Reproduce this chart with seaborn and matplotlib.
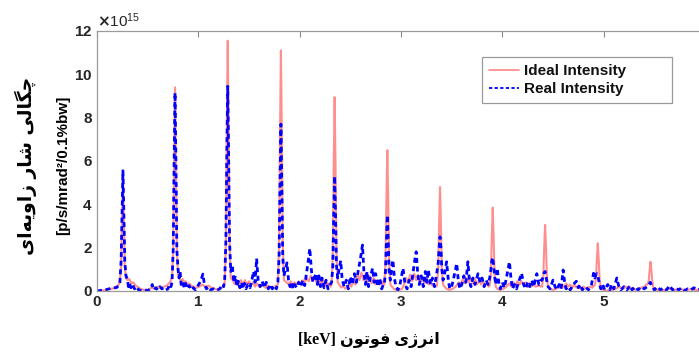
import numpy as np
import matplotlib
matplotlib.use('Agg')
import matplotlib.pyplot as plt
import seaborn as sns

# spectrum, flux in units of 1e15 p/s/mrad^2/0.1%bw
ideal_kev = [0.00, 0.04, 0.08, 0.12, 0.16, 0.19, 0.215,
             0.226, 0.238, 0.247, 0.256, 0.265, 0.274, 0.286,
             0.30, 0.32, 0.34, 0.36, 0.38, 0.40, 0.43, 0.46, 0.50, 0.54, 0.57, 0.60, 0.63, 0.66, 0.69, 0.72,
             0.740, 0.752, 0.761, 0.770, 0.779, 0.788, 0.800,
             0.815, 0.83, 0.845, 0.86, 0.875, 0.89, 0.91, 0.93, 0.95, 0.98, 1.01, 1.04, 1.07, 1.10, 1.13, 1.16, 1.19, 1.22, 1.245,
             1.260, 1.272, 1.281, 1.290, 1.299, 1.308, 1.320,
             1.34, 1.36, 1.38, 1.40, 1.42, 1.44, 1.46, 1.48, 1.50, 1.52, 1.54, 1.56, 1.58, 1.60, 1.63, 1.66, 1.69, 1.72, 1.75, 1.775,
             1.785, 1.797, 1.806, 1.815, 1.824, 1.833, 1.845,
             1.87, 1.89, 1.91, 1.93, 1.95, 1.97, 1.99, 2.01, 2.03, 2.05, 2.07, 2.09, 2.11, 2.13, 2.15, 2.17, 2.19, 2.21, 2.23, 2.25, 2.27, 2.29, 2.305,
             2.315, 2.327, 2.336, 2.345, 2.354, 2.363, 2.375,
             2.39, 2.41, 2.43, 2.45, 2.47, 2.49, 2.51, 2.53, 2.55, 2.57, 2.59, 2.61, 2.63, 2.65, 2.67, 2.69, 2.71, 2.73, 2.75, 2.77, 2.79, 2.81, 2.825,
             2.835, 2.847, 2.856, 2.865, 2.874, 2.883, 2.895,
             2.91, 2.93, 2.95, 2.98, 3.01, 3.03, 3.05, 3.07, 3.09, 3.11, 3.13, 3.15, 3.17, 3.19, 3.21, 3.23, 3.25, 3.27, 3.29, 3.31, 3.33, 3.345,
             3.355, 3.367, 3.376, 3.385, 3.394, 3.403, 3.415,
             3.43, 3.45, 3.48, 3.51, 3.54, 3.57, 3.59, 3.61, 3.63, 3.65, 3.67, 3.69, 3.71, 3.73, 3.75, 3.77, 3.79, 3.81, 3.83, 3.85, 3.865,
             3.875, 3.887, 3.896, 3.905, 3.914, 3.923, 3.935,
             3.95, 3.98, 4.01, 4.04, 4.07, 4.09, 4.11, 4.13, 4.15, 4.17, 4.19, 4.21, 4.23, 4.25, 4.27, 4.29, 4.31, 4.33, 4.36, 4.38,
             4.392, 4.404, 4.413, 4.422, 4.431, 4.440, 4.452,
             4.47, 4.50, 4.53, 4.56, 4.59, 4.61, 4.63, 4.65, 4.67, 4.69, 4.71, 4.73, 4.75, 4.77, 4.80, 4.83, 4.86, 4.89, 4.90,
             4.912, 4.924, 4.933, 4.942, 4.951, 4.960, 4.972,
             4.99, 5.03, 5.08, 5.12, 5.16, 5.19, 5.22, 5.25, 5.28, 5.31, 5.34, 5.37, 5.40, 5.42,
             5.432, 5.444, 5.453, 5.462, 5.471, 5.480, 5.492,
             5.51, 5.55, 5.60, 5.65, 5.70, 5.75, 5.80, 5.85, 5.90, 5.95, 6.00]
ideal_flux = [0.00, 0.02, 0.04, 0.08, 0.12, 0.20, 0.30,
              0.50, 1.10, 3.40, 5.30, 3.40, 1.10, 0.60,
              0.50, 0.55, 0.35, 0.40, 0.25, 0.20, 0.10, 0.05, 0.05, 0.15, 0.10, 0.20, 0.15, 0.20, 0.25, 0.40,
              0.60, 1.90, 6.10, 9.40, 6.10, 1.90, 0.70,
              0.60, 0.45, 0.55, 0.40, 0.45, 0.30, 0.35, 0.25, 0.20, 0.15, 0.20, 0.30, 0.20, 0.25, 0.15, 0.10, 0.05, 0.10, 0.20,
              0.40, 2.30, 7.50, 11.55, 7.50, 2.30, 0.60,
              0.50, 0.30, 0.50, 0.30, 0.50, 0.30, 0.50, 0.30, 0.45, 0.25, 0.40, 0.20, 0.35, 0.20, 0.30, 0.15, 0.25, 0.15, 0.20, 0.25,
              0.30, 2.20, 7.20, 11.10, 7.20, 2.20, 0.50,
              0.40, 0.30, 0.45, 0.25, 0.40, 0.30, 0.45, 0.30, 0.50, 0.40, 0.60, 0.45, 0.70, 0.50, 0.60, 0.35, 0.55, 0.30, 0.50, 0.25, 0.40, 0.30, 0.20,
              0.30, 1.80, 5.80, 8.95, 5.80, 1.80, 0.40,
              0.30, 0.15, 0.25, 0.10, 0.20, 0.30, 0.20, 0.50, 0.30, 0.75, 0.50, 0.85, 0.50, 0.80, 0.40, 0.70, 0.35, 0.60, 0.30, 0.50, 0.30, 0.45, 0.30,
              0.30, 1.30, 4.20, 6.50, 4.20, 1.30, 0.30,
              0.20, 0.10, 0.05, 0.05, 0.10, 0.30, 0.60, 0.40, 0.75, 0.45, 0.80, 0.50, 0.75, 0.40, 0.65, 0.35, 0.60, 0.30, 0.45, 0.25, 0.30, 0.20,
              0.25, 1.00, 3.10, 4.80, 3.10, 1.00, 0.30,
              0.20, 0.10, 0.05, 0.10, 0.20, 0.40, 0.30, 0.55, 0.35, 0.60, 0.40, 0.60, 0.35, 0.55, 0.30, 0.50, 0.30, 0.45, 0.25, 0.35, 0.20,
              0.25, 0.80, 2.50, 3.85, 2.50, 0.80, 0.20,
              0.10, 0.05, 0.10, 0.20, 0.35, 0.20, 0.40, 0.25, 0.45, 0.30, 0.45, 0.25, 0.40, 0.20, 0.35, 0.20, 0.30, 0.20, 0.25, 0.20,
              0.20, 0.65, 2.00, 3.05, 2.00, 0.65, 0.20,
              0.10, 0.05, 0.10, 0.20, 0.30, 0.15, 0.35, 0.20, 0.30, 0.15, 0.30, 0.15, 0.25, 0.10, 0.20, 0.10, 0.20, 0.15, 0.25,
              0.25, 0.55, 1.45, 2.20, 1.45, 0.55, 0.15,
              0.05, 0.02, 0.05, 0.10, 0.20, 0.10, 0.20, 0.10, 0.15, 0.05, 0.10, 0.15, 0.20, 0.30,
              0.30, 0.45, 0.95, 1.35, 0.95, 0.45, 0.10,
              0.05, 0.02, 0.05, 0.10, 0.05, 0.10, 0.05, 0.08, 0.05, 0.05, 0.03]

real_kev = [0.00, 0.04, 0.08, 0.12, 0.16, 0.19, 0.215,
            0.226, 0.238, 0.247, 0.256, 0.265, 0.274, 0.286,
            0.30, 0.31, 0.32, 0.335, 0.35, 0.37, 0.39, 0.41, 0.44, 0.47, 0.50, 0.53, 0.545, 0.56, 0.58, 0.60, 0.62, 0.64, 0.66, 0.68, 0.70, 0.715, 0.73,
            0.740, 0.752, 0.761, 0.770, 0.779, 0.788, 0.800,
            0.81, 0.82, 0.83, 0.845, 0.86, 0.875, 0.89, 0.91, 0.93, 0.95, 0.97, 0.99, 1.01, 1.03, 1.045, 1.06, 1.08, 1.10, 1.12, 1.15, 1.18, 1.21, 1.24, 1.25,
            1.260, 1.272, 1.281, 1.290, 1.299, 1.308, 1.320,
            1.335, 1.35, 1.365, 1.38, 1.395, 1.41, 1.425, 1.44, 1.455, 1.47, 1.49, 1.51, 1.53, 1.545, 1.56, 1.575, 1.59, 1.61, 1.63, 1.65, 1.67, 1.69, 1.71, 1.73, 1.75, 1.77,
            1.785, 1.797, 1.806, 1.815, 1.824, 1.833, 1.845,
            1.86, 1.875, 1.89, 1.905, 1.92, 1.935, 1.95, 1.97, 1.99, 2.01, 2.03, 2.05, 2.07, 2.085, 2.10, 2.115, 2.13, 2.145, 2.16, 2.175, 2.19, 2.205, 2.22, 2.24, 2.26, 2.28, 2.30,
            2.315, 2.327, 2.336, 2.345, 2.354, 2.363, 2.375,
            2.39, 2.405, 2.42, 2.44, 2.46, 2.48, 2.50, 2.52, 2.54, 2.56, 2.58, 2.60, 2.62, 2.635, 2.65, 2.665, 2.68, 2.70, 2.72, 2.735, 2.75, 2.77, 2.79, 2.81, 2.825,
            2.835, 2.847, 2.856, 2.865, 2.874, 2.883, 2.895,
            2.905, 2.92, 2.935, 2.95, 2.97, 2.99, 3.02, 3.04, 3.06, 3.08, 3.10, 3.12, 3.135, 3.15, 3.165, 3.18, 3.20, 3.22, 3.24, 3.255, 3.27, 3.29, 3.31, 3.33, 3.345,
            3.355, 3.367, 3.376, 3.385, 3.394, 3.403, 3.415,
            3.43, 3.45, 3.465, 3.48, 3.50, 3.52, 3.55, 3.565, 3.58, 3.60, 3.62, 3.64, 3.66, 3.675, 3.69, 3.71, 3.73, 3.76, 3.78, 3.80, 3.82, 3.84, 3.86,
            3.875, 3.887, 3.896, 3.905, 3.914, 3.923, 3.935,
            3.95, 3.965, 3.98, 4.00, 4.02, 4.04, 4.07, 4.085, 4.10, 4.12, 4.14, 4.16, 4.19, 4.21, 4.23, 4.25, 4.27, 4.29, 4.31, 4.34, 4.36, 4.38,
            4.392, 4.404, 4.413, 4.422, 4.431, 4.440, 4.452,
            4.47, 4.50, 4.52, 4.54, 4.56, 4.58, 4.60, 4.615, 4.63, 4.65, 4.67, 4.70, 4.73, 4.75, 4.77, 4.79, 4.82, 4.85, 4.88, 4.90,
            4.912, 4.924, 4.933, 4.942, 4.951, 4.960, 4.972,
            4.99, 5.01, 5.04, 5.06, 5.08, 5.10, 5.13, 5.15, 5.17, 5.20, 5.23, 5.26, 5.28, 5.31, 5.34, 5.37, 5.40, 5.43,
            5.445, 5.46, 5.48,
            5.50, 5.53, 5.56, 5.59, 5.62, 5.65, 5.68, 5.71, 5.74, 5.77, 5.80, 5.83, 5.86, 5.89, 5.92, 5.96, 6.00]
real_flux = [0.00, 0.03, 0.05, 0.10, 0.15, 0.15, 0.25,
             0.40, 1.40, 3.60, 5.55, 3.60, 1.40, 0.70,
             0.55, 0.20, 0.35, 0.15, 0.30, 0.10, 0.20, 0.05, 0.02, 0.05, 0.02, 0.10, 0.30, 0.05, 0.15, 0.05, 0.20, 0.10, 0.15, 0.05, 0.10, 0.30, 0.20,
             0.40, 1.90, 5.90, 9.15, 5.90, 1.90, 1.00,
             0.60, 0.90, 0.30, 0.45, 0.15, 0.35, 0.10, 0.25, 0.05, 0.15, 0.05, 0.20, 0.35, 0.55, 0.78, 0.30, 0.10, 0.20, 0.05, 0.10, 0.02, 0.10, 0.30, 0.20,
             0.50, 2.30, 6.20, 9.45, 6.20, 2.30, 0.90,
             1.20, 0.40, 0.70, 0.20, 0.45, 0.15, 0.40, 0.10, 0.35, 0.10, 0.30, 0.15, 0.55, 0.90, 0.40, 1.50, 0.50, 0.20, 0.45, 0.15, 0.40, 0.10, 0.30, 0.10, 0.25, 0.10,
             0.40, 1.60, 5.00, 7.70, 5.00, 1.60, 0.70,
             1.00, 1.30, 0.50, 0.20, 0.40, 0.10, 0.30, 0.15, 0.40, 0.20, 0.50, 0.25, 0.90, 1.40, 1.97, 1.00, 0.40, 0.60, 0.82, 0.30, 0.70, 0.20, 0.60, 0.15, 0.50, 0.10, 0.30,
             0.40, 1.10, 3.50, 5.30, 3.50, 1.20, 0.60,
             1.05, 1.40, 0.50, 0.20, 0.50, 0.10, 0.66, 0.30, 0.80, 0.40, 1.00, 1.50, 2.12, 0.80, 0.30, 0.90, 0.20, 0.70, 1.05, 0.40, 0.80, 0.20, 0.60, 0.10, 0.30,
             0.30, 0.90, 2.30, 3.50, 2.30, 0.90, 0.50,
             1.00, 1.43, 0.60, 0.20, 0.05, 0.30, 1.05, 0.30, 0.10, 0.50, 0.20, 0.90, 1.40, 1.81, 0.80, 0.30, 0.70, 0.20, 0.90, 0.40, 0.97, 0.30, 0.60, 0.20, 0.60,
             0.90, 1.30, 2.00, 2.50, 2.00, 1.00, 0.50,
             0.80, 1.35, 0.60, 0.10, 0.20, 0.60, 1.27, 0.50, 0.10, 0.30, 0.70, 0.40, 1.35, 0.50, 0.20, 0.60, 0.30, 0.80, 0.40, 0.60, 0.20, 0.50, 0.30,
             0.60, 1.00, 1.40, 1.55, 1.20, 0.70, 0.30,
             1.05, 0.40, 0.10, 0.40, 0.15, 0.60, 1.35, 0.60, 0.10, 0.30, 0.10, 0.40, 0.82, 0.30, 0.10, 0.40, 0.20, 0.50, 0.20, 0.80, 0.30, 0.50,
             0.50, 0.70, 0.85, 0.90, 0.70, 0.40, 0.20,
             0.10, 0.50, 0.20, 0.05, 0.30, 0.10, 0.97, 0.40, 0.10, 0.20, 0.05, 0.30, 0.45, 0.15, 0.30, 0.05, 0.20, 0.05, 0.30, 0.82,
             0.60, 0.75, 0.80, 0.70, 0.50, 0.30, 0.10,
             0.30, 0.05, 0.30, 0.05, 0.30, 0.10, 0.60, 0.20, 0.05, 0.20, 0.05, 0.25, 0.05, 0.20, 0.05, 0.20, 0.10, 0.20,
             0.30, 0.40, 0.20,
             0.05, 0.20, 0.05, 0.15, 0.05, 0.25, 0.05, 0.15, 0.05, 0.15, 0.02, 0.10, 0.05, 0.15, 0.05, 0.10, 0.05]

series_labels = ['Ideal Intensity', 'Real Intensity']
x_ticks = [0, 1, 2, 3, 4, 5]
y_ticks = [0, 2, 4, 6, 8, 10, 12]

# Persian labels, already shaped (presentation forms) and in visual order
ylabel_fa = ('\uFBFC\uFE8D\uFEEA\uFBFE\uFEED\uFE8D\uFEAF' + ' '
             + '\uFEAD\uFE8E\uFEB7' + ' '
             + '\uFBFD\uFEDF\uFE8E\uFB95\uFB7C')
ylabel_unit = '[p/s/mrad\u00b2/0.1%bw]'
xlabel_fa = ('[keV] ' + '\uFEE5\uFEEE\uFE97\uFEEE\uFED3' + ' '
             + '\uFBFC\uFB8A\uFEAE\uFEE7\uFE8D')

sns.set_style('white')
plt.rcParams['font.family'] = ['Liberation Sans', 'DejaVu Sans']
plt.rcParams['font.weight'] = 'bold'

fig = plt.figure(figsize=(6.99, 3.52), dpi=100)
ax = fig.add_axes([97 / 699, 61 / 352, 608 / 699, 260 / 352])

sns.lineplot(x=ideal_kev, y=np.array(ideal_flux) * 1e15, ax=ax, color='#ff6a6a', alpha=0.75,
             linewidth=1.5, label=series_labels[0], sort=False, estimator=None)
sns.lineplot(x=real_kev, y=np.array(real_flux) * 1e15, ax=ax, color='#0000ff',
             linewidth=2.0, linestyle=(0, (1.8, 1.3)), label=series_labels[1], sort=False, estimator=None)

ax.set_xlim(0, 6)
ax.set_ylim(0, 12e15)
ax.set_xticks(x_ticks)
ax.set_yticks([v * 1e15 for v in y_ticks])
ax.ticklabel_format(axis='y', style='sci', scilimits=(15, 15), useMathText=True)
ax.tick_params(direction='in', top=True, right=True, length=4, width=0.8,
               color='#8a8a8a', labelcolor='#262626', labelsize=11, pad=3)
for s in ax.spines.values():
    s.set_color('#9a9a9a')
    s.set_linewidth(0.9)
ot = ax.yaxis.get_offset_text()
ot.set_fontsize(11)
ot.set_fontweight('normal')
ot.set_color('#262626')
ax.set_xlabel('')
ax.set_ylabel('')

leg = ax.legend(loc='upper left', bbox_to_anchor=(0.633, 0.735, 0.313, 0.165), mode='expand',
                borderaxespad=0, fancybox=False, edgecolor='#9a9a9a', framealpha=1,
                fontsize=11, handlelength=2.0, handletextpad=0.3, labelspacing=0.3,
                borderpad=0.45)
leg.get_frame().set_linewidth(0.9)
for line in leg.get_lines():
    line.set_linewidth(1.3)
for t in leg.get_texts():
    t.set_color('#111111')
    t.set_fontweight('bold')

fig.text(26 / 699, 1 - 166 / 352, ylabel_fa, rotation=90, ha='center', va='center',
         fontsize=13.5, fontweight='bold', family=['DejaVu Sans'], color='black')
fig.text(63 / 699, 1 - 165 / 352, ylabel_unit, rotation=90, ha='center', va='center',
         fontsize=11, fontweight='bold', color='black')
fig.text(369 / 699, 1 - 340 / 352, xlabel_fa, ha='center', va='center',
         fontsize=11.5, fontweight='bold', family=['Liberation Serif', 'DejaVu Serif', 'DejaVu Sans'],
         color='black')

fig.savefig('out.png', dpi=100)
